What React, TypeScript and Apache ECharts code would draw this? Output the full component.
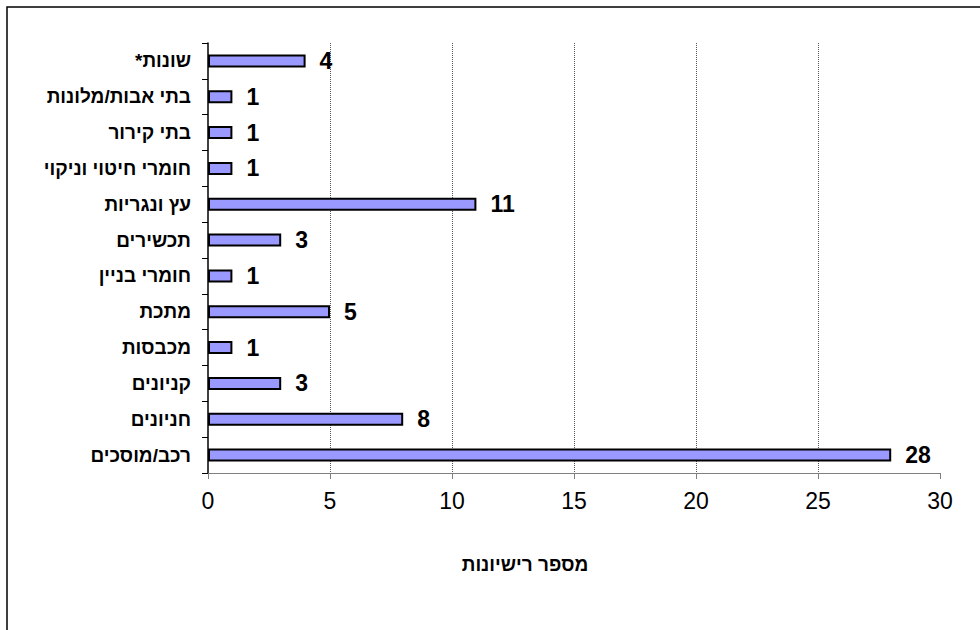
import React, { useEffect, useRef } from "react";
import * as echarts from "echarts";

const categories = [
  "רכב/מוסכים",
  "חניונים",
  "קניונים",
  "מכבסות",
  "מתכת",
  "חומרי בניין",
  "תכשירים",
  "עץ ונגריות",
  "חומרי חיטוי וניקוי",
  "בתי קירור",
  "בתי אבות/מלונות",
  "שונות*",
];
const values = [28, 8, 3, 1, 5, 1, 3, 11, 1, 1, 1, 4];
const axisTitle = "מספר רישיונות";
const FONT = "Arial, 'Liberation Sans', 'DejaVu Sans', sans-serif";

export default function App() {
  const ref = useRef<HTMLDivElement>(null);
  useEffect(() => {
    if (!ref.current) return;
    const chart = echarts.init(ref.current, null, { renderer: "svg" });
    const labelStyle = {
      color: "#000",
      fontFamily: FONT,
      fontSize: 19,
      fontWeight: "bold" as const,
    };
    chart.setOption({
      animation: false,
      backgroundColor: "#ffffff",
      grid: { left: 208, right: 40, top: 43, bottom: 157, containLabel: false },
      xAxis: {
        type: "value",
        min: 0,
        max: 30,
        interval: 5,
        axisLine: { show: true, lineStyle: { color: "#808080", width: 1 } },
        axisTick: { show: true, length: 6, lineStyle: { color: "#808080" } },
        axisLabel: { color: "#000", fontFamily: FONT, fontSize: 23, margin: 16 },
        splitLine: {
          show: true,
          showMinLine: false,
          showMaxLine: false,
          lineStyle: { color: "#555", type: [1, 1], width: 1 },
        },
      },
      yAxis: {
        type: "category",
        data: categories,
        axisLine: { show: true, lineStyle: { color: "#000", width: 1.5 } },
        axisTick: { show: true, length: 6, lineStyle: { color: "#000" } },
        axisLabel: {
          ...labelStyle,
          margin: 17,
          // Reference renders the trailing asterisk on the visual left (RTL)
          formatter: (v: string) =>
            v.endsWith("*") ? `{t|*}{t|${v.slice(0, -1)}}` : v,
          rich: { t: { ...labelStyle } },
        },
        splitLine: { show: false },
      },
      series: [
        {
          type: "bar",
          data: values,
          barWidth: 13,
          itemStyle: { color: "#9999FF", borderColor: "#000", borderWidth: 2 },
          label: {
            show: true,
            position: "right",
            distance: 14,
            color: "#000",
            fontFamily: FONT,
            fontSize: 23,
            fontWeight: "bold",
          },
        },
      ],
      graphic: [
        {
          type: "rect",
          shape: { x: 7, y: 7, width: 1100, height: 800 },
          style: { fill: "none", stroke: "#000", lineWidth: 1.5 },
          silent: true,
        },
        {
          type: "text",
          x: 525,
          y: 564,
          style: {
            text: axisTitle,
            fill: "#000",
            font: `bold 19px ${FONT}`,
            textAlign: "center",
            textVerticalAlign: "middle",
          },
        },
      ],
    });
    return () => chart.dispose();
  }, []);
  return (
    <div
      ref={ref}
      style={{ position: "fixed", left: 0, top: 0, width: 980, height: 630 }}
    />
  );
}
